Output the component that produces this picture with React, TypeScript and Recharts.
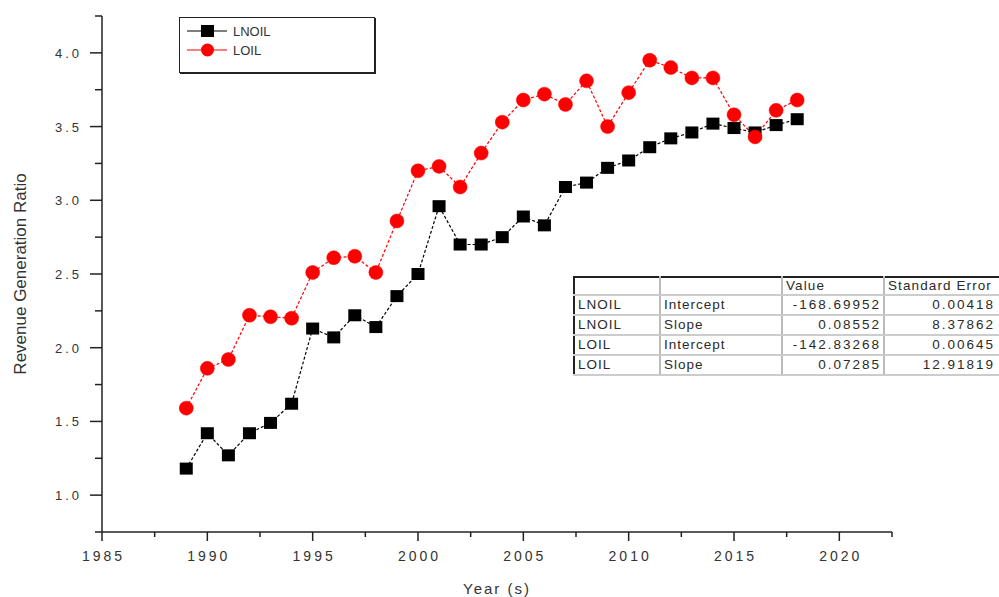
import { LineChart, Line, XAxis, YAxis, Legend } from "recharts";

// ─── Data ──────────────────────────────────────────────────────────

const years = [
  1989, 1990, 1991, 1992, 1993, 1994, 1995, 1996, 1997, 1998, 1999, 2000, 2001, 2002, 2003,
  2004, 2005, 2006, 2007, 2008, 2009, 2010, 2011, 2012, 2013, 2014, 2015, 2016, 2017, 2018,
];

const lnoil = [
  1.18, 1.42, 1.27, 1.42, 1.49, 1.62, 2.13, 2.07, 2.22, 2.14, 2.35, 2.5, 2.96, 2.7, 2.7,
  2.75, 2.89, 2.83, 3.09, 3.12, 3.22, 3.27, 3.36, 3.42, 3.46, 3.52, 3.49, 3.46, 3.51, 3.55,
];

const loil = [
  1.59, 1.86, 1.92, 2.22, 2.21, 2.2, 2.51, 2.61, 2.62, 2.51, 2.86, 3.2, 3.23, 3.09, 3.32,
  3.53, 3.68, 3.72, 3.65, 3.81, 3.5, 3.73, 3.95, 3.9, 3.83, 3.83, 3.58, 3.43, 3.61, 3.68,
];

const xTicks = [
  1985, 1987.5, 1990, 1992.5, 1995, 1997.5, 2000, 2002.5, 2005, 2007.5, 2010, 2012.5, 2015,
  2017.5, 2020, 2022.5,
];
const yTicks = [0.75, 1, 1.25, 1.5, 1.75, 2, 2.25, 2.5, 2.75, 3, 3.25, 3.5, 3.75, 4, 4.25];

const tableHeader = ["", "", "Value", "Standard Error"];
const tableSeries = ["LNOIL", "LNOIL", "LOIL", "LOIL"];
const tableParams = ["Intercept", "Slope", "Intercept", "Slope"];
const tableValues = ["-168.69952", "0.08552", "-142.83268", "0.07285"];
const tableErrors = ["0.00418", "8.37862", "0.00645", "12.91819"];

const data = years.map((y, i) => ({ year: y, LNOIL: lnoil[i], LOIL: loil[i] }));

// ─── Helpers ───────────────────────────────────────────────────────

const AXIS = "#222";
const FONT = "'Liberation Sans', Arial, sans-serif";

function XTick(props: any) {
  const { x, y, payload } = props;
  const v = payload.value as number;
  const major = v % 5 === 0;
  return (
    <g>
      <line x1={x} y1={y} x2={x} y2={y + (major ? 9 : 5)} stroke={AXIS} strokeWidth={1.5} />
      {major && (
        <text
          x={x + 1.5}
          y={y + 29}
          textAnchor="middle"
          fontFamily={FONT}
          fontSize={14}
          letterSpacing={3}
          fill="#333"
        >
          {v}
        </text>
      )}
    </g>
  );
}

function YTick(props: any) {
  const { x, y, payload } = props;
  const v = payload.value as number;
  const major = Math.abs(v * 2 - Math.round(v * 2)) < 1e-6;
  return (
    <g>
      <line x1={x} y1={y} x2={x - (major ? 12 : 7)} y2={y} stroke={AXIS} strokeWidth={1.5} />
      {major && (
        <text
          x={x - 20}
          y={y + 5}
          textAnchor="end"
          fontFamily={FONT}
          fontSize={13}
          letterSpacing={3}
          fill="#333"
        >
          {v.toFixed(1)}
        </text>
      )}
    </g>
  );
}

function SquareDot(props: any) {
  const { cx, cy } = props;
  if (cx == null || cy == null) return null;
  return <rect x={cx - 6.5} y={cy - 6} width={13} height={12} fill="#000" />;
}

function LegendBox() {
  const rows = [
    { name: "LNOIL", color: "#000", square: true },
    { name: "LOIL", color: "#ff0000", square: false },
  ];
  return (
    <div
      style={{
        width: 196,
        height: 56,
        border: `1px solid ${AXIS}`,
        boxShadow: `1px 1px 0 ${AXIS}`,
        background: "#fff",
        boxSizing: "border-box",
      }}
    >
      <svg width={194} height={54}>
        {rows.map((r, i) => {
          const cy = 13 + i * 19;
          return (
            <g key={r.name}>
              <line x1={7} x2={47} y1={cy} y2={cy} stroke={r.color} strokeWidth={1.2} />
              {r.square ? (
                <rect x={21} y={cy - 6} width={13} height={12} fill={r.color} />
              ) : (
                <circle cx={27.5} cy={cy} r={6.5} fill={r.color} />
              )}
              <text x={53} y={cy + 5} fontFamily={FONT} fontSize={13} fill="#333">
                {r.name}
              </text>
            </g>
          );
        })}
      </svg>
    </div>
  );
}

// ─── Component ─────────────────────────────────────────────────────

const cell = {
  fontFamily: FONT,
  fontSize: 13.5,
  lineHeight: "16px",
  color: "#2a2a2a",
  letterSpacing: 1,
  padding: "0 3px",
  borderRight: "2px solid #bbb",
  borderBottom: "2px solid #ccc",
  whiteSpace: "nowrap" as const,
  overflow: "hidden",
  height: 18,
};

const num = { ...cell, textAlign: "right" as const, letterSpacing: 2, paddingRight: 2 };

export default function App() {
  return (
    <div style={{ position: "relative", width: 999, height: 597, overflow: "hidden", background: "#fff" }}>
      <style>{"body{margin:0}"}</style>
      <LineChart width={999} height={597} data={data} margin={{ top: 16, right: 107, bottom: 0, left: 0 }}>
        <XAxis
          dataKey="year"
          type="number"
          domain={[1985, 2022.5]}
          ticks={xTicks}
          interval={0}
          height={65}
          tickSize={0}
          tickMargin={0}
          tickLine={false}
          tick={<XTick />}
          axisLine={{ stroke: AXIS, strokeWidth: 1.5 }}
          label={(p: any) => {
            const vb = p.viewBox;
            return (
              <text
                x={vb.x + vb.width / 2}
                y={vb.y + 62}
                textAnchor="middle"
                fontFamily={FONT}
                fontSize={15}
                letterSpacing={2}
                fill="#333"
              >
                Year (s)
              </text>
            );
          }}
        />
        <YAxis
          type="number"
          domain={[0.75, 4.25]}
          ticks={yTicks}
          interval={0}
          width={102}
          tickSize={0}
          tickMargin={0}
          tickLine={false}
          tick={<YTick />}
          axisLine={{ stroke: AXIS, strokeWidth: 1.5 }}
          label={(p: any) => {
            const vb = p.viewBox;
            const cy = vb.y + vb.height / 2;
            return (
              <text
                x={26}
                y={cy}
                transform={`rotate(-90 26 ${cy})`}
                textAnchor="middle"
                fontFamily={FONT}
                fontSize={17}
                fill="#333"
              >
                Revenue Generation Ratio
              </text>
            );
          }}
        />
        <Legend
          layout="vertical"
          align="center"
          verticalAlign="middle"
          wrapperStyle={{ left: 179, top: 17, width: 198, height: 58 }}
          content={() => <LegendBox />}
        />
        <Line
          dataKey="LNOIL"
          name="LNOIL"
          stroke="#000"
          strokeWidth={1.2}
          strokeDasharray="3 2"
          dot={<SquareDot />}
          activeDot={false}
          isAnimationActive={false}
        />
        <Line
          dataKey="LOIL"
          name="LOIL"
          stroke="#ff0000"
          strokeWidth={1.2}
          strokeDasharray="3 2"
          dot={{ r: 7, fill: "#ff0000", stroke: "#ff0000", strokeWidth: 0.5, strokeDasharray: "" }}
          activeDot={false}
          isAnimationActive={false}
        />
      </LineChart>

      {/* Fit parameter table, running off the right edge like the reference */}
      <table
        style={{
          position: "absolute",
          left: 573,
          top: 276,
          borderCollapse: "collapse",
          border: `2px solid ${AXIS}`,
          background: "#fff",
          tableLayout: "fixed",
          width: 440,
        }}
      >
        <colgroup>
          <col style={{ width: 86 }} />
          <col style={{ width: 122 }} />
          <col style={{ width: 102 }} />
          <col style={{ width: 130 }} />
        </colgroup>
        <tbody>
          <tr>
            {tableHeader.map((h, i) => (
              <td key={i} style={{ ...cell, height: 14, letterSpacing: 1.1 }}>
                {h}
              </td>
            ))}
          </tr>
          {tableSeries.map((s, i) => (
            <tr key={i}>
              <td style={cell}>{s}</td>
              <td style={cell}>{tableParams[i]}</td>
              <td style={num}>{tableValues[i]}</td>
              <td style={{ ...num, paddingRight: 18 }}>{tableErrors[i]}</td>
            </tr>
          ))}
        </tbody>
      </table>
    </div>
  );
}
